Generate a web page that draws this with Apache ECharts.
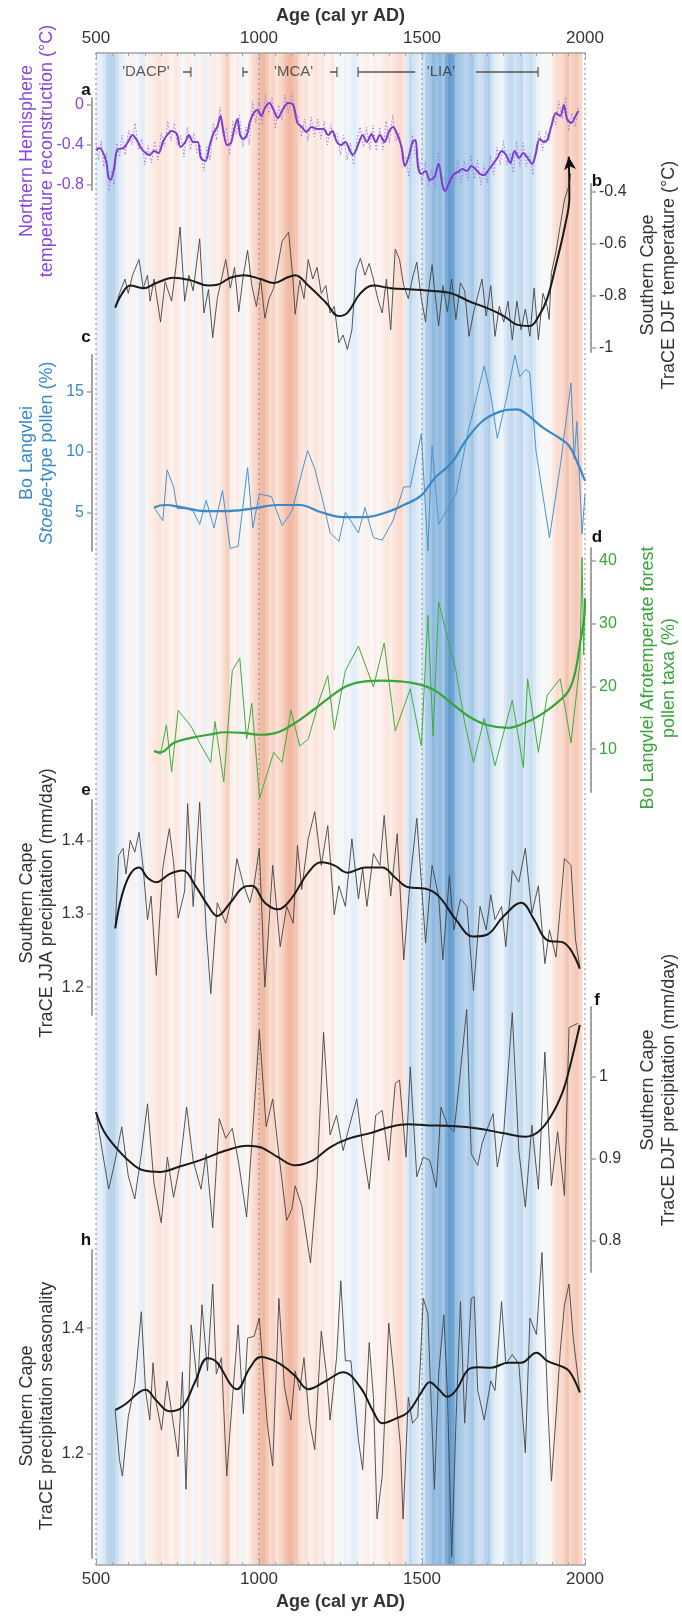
<!DOCTYPE html>
<html><head><meta charset="utf-8">
<script src="https://cdn.jsdelivr.net/npm/echarts@6/dist/echarts.min.js"></script>
<style>html,body{margin:0;padding:0;background:#fff;}#c{width:682px;height:1616px;}</style>
</head><body><div id="c"></div>
<script>
const FONT = "'Liberation Sans', Arial, Helvetica, sans-serif";

// ---------- axis ticks ----------
const ageTicks = [500, 1000, 1500, 2000];
const ticksA = [0, -0.4, -0.8];
const ticksB = [-0.4, -0.6, -0.8, -1];
const ticksC = [5, 10, 15];
const ticksD = [10, 20, 30, 40];
const ticksE = [1.2, 1.3, 1.4];
const ticksF = [0.8, 0.9, 1];
const ticksH = [1.2, 1.4];

// ---------- period annotations ----------
const periodNames = ["'DACP'", "'MCA'", "'LIA'"];
const periodLabelYears = [653, 1106, 1558];
const periodSegments = [[767, 791], [951, 967], [1218, 1239], [1304, 1479], [1666, 1856]];
const periodCaps = [791, 951, 1239, 1304, 1856];

// ---------- background stripes (decadal NH anomaly, -1 cold .. +1 warm) ----------
const stripeValues = [
-0.2,-0.2,-0.3,-0.45,-0.5,-0.5,-0.35,-0.25,-0.15,0.1,
0.15,-0.1,0.1,-0.2,-0.25,0.1,0.2,0.25,0.3,0.35,
0.25,0.3,0.2,0.15,0.3,0.2,0.05,-0.1,0.25,0.1,
-0.15,0.1,0.2,-0.2,-0.1,0.2,0.25,0.15,0.3,0.45,
0.55,0.2,0.1,0.25,-0.1,0.15,0.05,0.3,0.45,0.55,
0.7,0.75,0.6,0.45,0.5,0.35,0.45,0.55,0.7,0.75,
0.7,0.6,0.4,0.3,0.35,0.2,0.25,0.35,0.25,0.3,
0.15,0.1,0.3,0.05,-0.1,0.05,-0.15,-0.1,-0.2,-0.25,
-0.1,0.1,0.2,0.15,0.05,0.2,0.1,0.15,0.25,0.3,
0.2,0.35,0.4,0.45,0.3,-0.3,-0.45,-0.35,-0.3,-0.2,
-0.35,-0.55,-0.6,-0.7,-0.65,-0.7,-0.6,-0.8,-0.9,-0.85,
-0.65,-0.6,-0.55,-0.5,-0.55,-0.6,-0.45,-0.35,-0.4,-0.5,
-0.55,-0.35,-0.25,-0.15,-0.1,-0.3,-0.4,-0.45,-0.35,-0.4,
-0.45,-0.3,-0.35,-0.4,-0.3,-0.15,-0.05,0.05,-0.05,0.1,
0.3,0.45,0.4,0.5,0.65,0.5,0.55,0.6,0.5];
const stripeFirstYear = 500;
const stripeYears = 10;

// ---------- a: NH temperature reconstruction ----------
const nhSmooth = [[500,-0.45],[511,-0.43],[531,-0.56],[538,-0.72],[545,-0.75],[556,-0.62],[565,-0.45],[585,-0.43],[598,-0.37],[612,-0.30],[625,-0.35],[638,-0.43],[652,-0.48],[665,-0.50],[678,-0.46],[692,-0.48],[705,-0.37],[718,-0.30],[732,-0.26],[748,-0.29],[759,-0.42],[774,-0.37],[785,-0.30],[798,-0.37],[812,-0.37],[822,-0.53],[836,-0.56],[849,-0.40],[862,-0.27],[872,-0.22],[882,-0.11],[891,-0.27],[902,-0.40],[914,-0.38],[924,-0.24],[934,-0.14],[942,-0.30],[952,-0.34],[964,-0.29],[971,-0.18],[984,-0.08],[995,-0.05],[1007,-0.11],[1018,-0.03],[1032,0.02],[1045,-0.05],[1058,-0.13],[1072,-0.05],[1089,0.02],[1105,0.00],[1118,-0.18],[1132,-0.22],[1145,-0.27],[1161,-0.22],[1178,-0.24],[1198,-0.24],[1212,-0.30],[1225,-0.26],[1239,-0.37],[1252,-0.40],[1265,-0.37],[1278,-0.45],[1288,-0.50],[1298,-0.45],[1307,-0.37],[1318,-0.30],[1331,-0.37],[1345,-0.29],[1358,-0.37],[1371,-0.30],[1385,-0.37],[1398,-0.27],[1411,-0.22],[1425,-0.30],[1438,-0.43],[1447,-0.61],[1458,-0.53],[1471,-0.37],[1480,-0.35],[1488,-0.62],[1498,-0.69],[1511,-0.66],[1524,-0.75],[1538,-0.72],[1551,-0.59],[1564,-0.82],[1571,-0.86],[1584,-0.77],[1598,-0.69],[1611,-0.67],[1624,-0.64],[1638,-0.66],[1651,-0.61],[1664,-0.64],[1678,-0.69],[1691,-0.70],[1704,-0.65],[1718,-0.59],[1731,-0.53],[1744,-0.46],[1758,-0.50],[1771,-0.58],[1784,-0.46],[1798,-0.53],[1811,-0.48],[1824,-0.53],[1838,-0.59],[1848,-0.50],[1861,-0.34],[1874,-0.37],[1884,-0.35],[1897,-0.21],[1911,-0.08],[1924,-0.11],[1935,0.00],[1945,-0.14],[1958,-0.18],[1971,-0.11],[1980,-0.06]];
const nhRaw = [[500,-0.38],[508,-0.55],[516,-0.36],[524,-0.62],[532,-0.48],[540,-0.86],[548,-0.66],[556,-0.80],[564,-0.38],[572,-0.52],[580,-0.30],[590,-0.50],[600,-0.25],[610,-0.40],[620,-0.18],[630,-0.45],[640,-0.34],[650,-0.60],[660,-0.40],[670,-0.58],[680,-0.36],[690,-0.55],[700,-0.28],[710,-0.42],[720,-0.16],[730,-0.36],[740,-0.18],[750,-0.40],[760,-0.30],[770,-0.52],[780,-0.22],[790,-0.45],[800,-0.28],[810,-0.48],[820,-0.40],[830,-0.66],[840,-0.42],[850,-0.55],[860,-0.18],[870,-0.35],[880,-0.02],[890,-0.30],[900,-0.22],[910,-0.50],[920,-0.16],[930,-0.30],[940,-0.10],[950,-0.42],[960,-0.22],[970,-0.40],[980,0.04],[990,-0.18],[1000,0.06],[1010,-0.20],[1020,0.10],[1030,-0.10],[1040,0.08],[1050,-0.24],[1060,0.0],[1070,-0.15],[1080,0.10],[1090,-0.08],[1100,0.12],[1110,-0.10],[1120,-0.10],[1130,-0.32],[1140,-0.14],[1150,-0.36],[1160,-0.12],[1170,-0.32],[1180,-0.14],[1190,-0.34],[1200,-0.16],[1210,-0.40],[1220,-0.20],[1230,-0.32],[1240,-0.28],[1250,-0.50],[1260,-0.30],[1270,-0.55],[1280,-0.38],[1290,-0.60],[1300,-0.35],[1310,-0.22],[1320,-0.42],[1330,-0.22],[1340,-0.45],[1350,-0.20],[1360,-0.46],[1370,-0.22],[1380,-0.45],[1390,-0.16],[1400,-0.38],[1410,-0.10],[1420,-0.36],[1430,-0.28],[1440,-0.55],[1450,-0.52],[1460,-0.72],[1470,-0.30],[1480,-0.50],[1490,-0.55],[1500,-0.80],[1510,-0.56],[1520,-0.80],[1530,-0.64],[1540,-0.84],[1550,-0.48],[1560,-0.72],[1570,-0.74],[1580,-0.96],[1590,-0.66],[1600,-0.80],[1610,-0.55],[1620,-0.78],[1630,-0.56],[1640,-0.76],[1650,-0.50],[1660,-0.74],[1670,-0.55],[1680,-0.80],[1690,-0.60],[1700,-0.78],[1710,-0.50],[1720,-0.70],[1730,-0.42],[1740,-0.60],[1750,-0.36],[1760,-0.60],[1770,-0.48],[1780,-0.68],[1790,-0.36],[1800,-0.62],[1810,-0.38],[1820,-0.62],[1830,-0.48],[1840,-0.70],[1850,-0.42],[1860,-0.26],[1870,-0.46],[1880,-0.26],[1890,-0.36],[1900,-0.12],[1910,-0.20],[1920,0.04],[1930,-0.14],[1940,0.08],[1950,-0.26],[1960,-0.08],[1970,-0.22],[1980,-0.02]];

// ---------- b: TraCE DJF temperature ----------
const djfTemp = [[559,-0.845],[572,-0.79],[589,-0.735],[599,-0.79],[612,-0.72],[632,-0.66],[645,-0.77],[658,-0.72],[666,-0.82],[678,-0.735],[698,-0.90],[712,-0.745],[732,-0.82],[745,-0.69],[758,-0.535],[772,-0.82],[785,-0.72],[798,-0.78],[818,-0.58],[831,-0.865],[845,-0.775],[858,-0.96],[872,-0.81],[885,-0.735],[898,-0.66],[912,-0.77],[925,-0.69],[938,-0.86],[952,-0.72],[965,-0.625],[978,-0.76],[992,-0.84],[1005,-0.735],[1018,-0.885],[1031,-0.81],[1045,-0.77],[1058,-0.68],[1071,-0.59],[1091,-0.555],[1104,-0.735],[1111,-0.87],[1125,-0.74],[1138,-0.81],[1151,-0.66],[1165,-0.735],[1178,-0.69],[1191,-0.79],[1205,-0.76],[1218,-0.865],[1231,-0.84],[1245,-0.98],[1258,-0.95],[1271,-1.005],[1285,-0.93],[1298,-0.70],[1311,-0.655],[1325,-0.72],[1338,-0.675],[1351,-0.735],[1364,-0.81],[1378,-0.865],[1391,-0.735],[1404,-0.93],[1418,-0.62],[1431,-0.66],[1444,-0.76],[1458,-0.81],[1471,-0.73],[1484,-0.67],[1498,-0.81],[1511,-0.90],[1518,-0.80],[1531,-0.68],[1538,-0.77],[1551,-0.915],[1564,-0.76],[1578,-0.86],[1591,-0.735],[1604,-0.89],[1618,-0.75],[1631,-0.78],[1644,-0.955],[1658,-0.865],[1671,-0.80],[1684,-0.735],[1697,-0.877],[1711,-0.76],[1724,-0.955],[1737,-0.84],[1751,-0.90],[1764,-0.82],[1777,-0.968],[1791,-0.82],[1804,-0.93],[1817,-0.85],[1831,-0.955],[1844,-0.77],[1857,-0.968],[1871,-0.79],[1884,-0.84],[1890,-0.89],[1897,-0.71],[1911,-0.63],[1924,-0.53],[1937,-0.43],[1951,-0.375],[1956,-0.33]];
const djfTempSmooth = [[559,-0.845],[579,-0.793],[605,-0.76],[645,-0.77],[685,-0.75],[738,-0.73],[791,-0.74],[845,-0.76],[872,-0.757],[912,-0.73],[952,-0.72],[1005,-0.735],[1045,-0.75],[1085,-0.73],[1111,-0.72],[1151,-0.76],[1205,-0.825],[1245,-0.877],[1271,-0.865],[1311,-0.79],[1351,-0.76],[1404,-0.77],[1471,-0.775],[1524,-0.78],[1591,-0.79],[1644,-0.82],[1697,-0.845],[1751,-0.877],[1791,-0.91],[1831,-0.915],[1857,-0.88],[1884,-0.81],[1911,-0.68],[1937,-0.54],[1952,-0.42],[1950,-0.265]];

// ---------- c: Stoebe-type pollen ----------
const stoebe = [[678,5.4],[705,4.3],[718,8.5],[738,7.1],[749,5.3],[778,5.3],[798,5.1],[818,4.0],[838,6.0],[862,3.7],[888,6.8],[912,2.0],[936,2.2],[965,8.7],[981,3.7],[1001,6.5],[1038,6.3],[1071,3.9],[1101,5.1],[1149,10.1],[1171,8.6],[1198,5.7],[1218,3.3],[1245,2.6],[1265,5.0],[1305,3.3],[1325,5.4],[1351,2.9],[1378,2.7],[1411,4.3],[1444,7.1],[1464,7.1],[1498,11.5],[1518,1.8],[1531,10.5],[1551,4.0],[1604,6.5],[1640,11.5],[1672,15.0],[1691,17.1],[1712,14.5],[1731,11.1],[1760,14.5],[1785,18.0],[1800,16.2],[1818,16.8],[1830,16.6],[1850,10.0],[1891,2.9],[1925,9.0],[1957,15.7],[1967,9.4],[1975,12.5],[1991,3.2],[2000,6.5]];
const stoebeSmooth = [[678,5.4],[712,5.6],[765,5.4],[832,5.1],[898,5.1],[978,5.3],[1058,5.6],[1125,5.6],[1191,5.0],[1258,4.6],[1325,4.6],[1391,5.0],[1444,5.6],[1498,6.4],[1538,7.8],[1591,9.1],[1631,10.8],[1684,12.5],[1737,13.3],[1791,13.5],[1817,13.2],[1871,12.0],[1924,11.1],[1951,10.5],[1977,9.1],[2000,7.6]];

// ---------- d: Afrotemperate forest pollen ----------
const forest = [[678,9.7],[698,9.2],[716,13.9],[732,6.4],[752,16.2],[792,13.6],[818,11.0],[852,7.9],[865,14.4],[892,4.8],[918,22.5],[941,24.5],[962,11.6],[978,17.3],[1002,2.2],[1045,9.5],[1071,7.9],[1098,16.2],[1125,10.5],[1151,11.6],[1185,17.8],[1211,21.7],[1231,13.1],[1265,22.5],[1305,26.4],[1351,19.9],[1384,26.9],[1418,12.9],[1464,19.6],[1498,10.5],[1518,31.3],[1534,12.1],[1551,33.4],[1604,22.5],[1631,14.2],[1658,7.9],[1691,14.9],[1724,7.4],[1777,17.8],[1811,7.1],[1824,21.2],[1857,9.5],[1884,18.6],[1924,21.2],[1957,11.0],[1984,23.5],[1991,40.5],[1996,25.0],[2000,34.0]];
const forestSmooth = [[678,9.7],[698,9.5],[738,11.0],[791,11.8],[845,12.3],[898,12.7],[952,12.6],[1005,12.3],[1058,12.7],[1111,14.2],[1165,16.2],[1218,18.3],[1271,20.1],[1325,20.8],[1378,20.9],[1431,20.8],[1484,20.4],[1538,19.4],[1591,17.3],[1644,15.2],[1697,13.9],[1764,13.4],[1817,14.2],[1871,15.7],[1924,17.8],[1951,19.4],[1971,22.5],[1984,26.6],[1997,30.8],[2000,34.0]];

// ---------- e: TraCE JJA precipitation ----------
const jjaPrecip = [[559,1.280],[569,1.379],[583,1.389],[592,1.354],[605,1.400],[619,1.384],[632,1.411],[645,1.361],[658,1.292],[669,1.324],[685,1.216],[705,1.363],[725,1.416],[738,1.370],[752,1.294],[772,1.331],[781,1.450],[798,1.310],[818,1.452],[838,1.278],[852,1.191],[872,1.315],[898,1.287],[918,1.324],[932,1.375],[952,1.340],[972,1.315],[985,1.340],[1001,1.389],[1018,1.200],[1042,1.366],[1065,1.255],[1085,1.310],[1105,1.287],[1118,1.393],[1131,1.333],[1151,1.402],[1171,1.439],[1191,1.366],[1211,1.420],[1231,1.299],[1245,1.338],[1265,1.310],[1285,1.402],[1305,1.320],[1318,1.361],[1331,1.310],[1351,1.382],[1371,1.366],[1384,1.434],[1404,1.324],[1424,1.409],[1444,1.237],[1464,1.347],[1484,1.430],[1498,1.343],[1511,1.260],[1531,1.366],[1551,1.324],[1564,1.237],[1584,1.352],[1598,1.278],[1618,1.320],[1638,1.310],[1658,1.195],[1678,1.310],[1697,1.278],[1711,1.326],[1724,1.292],[1744,1.310],[1757,1.255],[1777,1.359],[1797,1.343],[1817,1.389],[1837,1.301],[1857,1.338],[1877,1.232],[1891,1.278],[1911,1.241],[1937,1.375],[1957,1.366],[1971,1.264],[1984,1.228]];
const jjaSmooth = [[559,1.280],[579,1.324],[605,1.354],[632,1.363],[658,1.349],[685,1.343],[725,1.354],[765,1.359],[805,1.338],[845,1.310],[872,1.297],[912,1.315],[952,1.336],[978,1.338],[1018,1.315],[1058,1.306],[1098,1.320],[1151,1.356],[1191,1.370],[1231,1.366],[1271,1.356],[1325,1.363],[1378,1.363],[1418,1.349],[1458,1.336],[1511,1.334],[1551,1.324],[1604,1.292],[1657,1.269],[1697,1.271],[1751,1.297],[1804,1.315],[1844,1.292],[1884,1.264],[1937,1.260],[1984,1.225]];

// ---------- f: TraCE DJF precipitation ----------
const djfPrecip = [[500,0.957],[519,0.910],[539,0.863],[559,0.898],[579,0.939],[599,0.879],[619,0.851],[639,0.906],[658,0.967],[678,0.870],[700,0.822],[719,0.902],[738,0.853],[758,0.894],[778,0.963],[798,0.898],[822,0.863],[838,0.906],[858,0.816],[878,0.949],[898,0.925],[918,0.937],[938,0.894],[962,0.829],[982,0.941],[1001,1.057],[1022,0.939],[1042,0.973],[1062,0.902],[1085,0.825],[1101,0.839],[1111,0.867],[1131,0.843],[1158,0.773],[1178,0.875],[1198,1.054],[1218,0.929],[1238,0.953],[1258,0.910],[1278,0.941],[1300,0.973],[1318,0.914],[1338,0.863],[1358,0.953],[1378,0.959],[1398,0.898],[1418,0.992],[1431,0.996],[1451,0.902],[1464,1.012],[1484,0.878],[1504,0.902],[1524,0.898],[1544,0.865],[1558,0.963],[1578,0.941],[1598,0.933],[1611,0.980],[1637,1.082],[1651,0.906],[1671,0.892],[1684,0.918],[1697,0.933],[1718,0.955],[1731,0.890],[1751,0.933],[1777,1.078],[1797,0.910],[1817,0.841],[1837,0.941],[1857,0.863],[1877,1.030],[1897,0.867],[1916,0.933],[1937,0.855],[1951,1.060],[1978,1.065]];
const djfPrecipSmooth = [[500,0.957],[525,0.933],[565,0.912],[605,0.896],[645,0.886],[698,0.884],[752,0.890],[818,0.898],[898,0.910],[965,0.916],[1005,0.914],[1058,0.902],[1111,0.892],[1165,0.898],[1218,0.914],[1271,0.924],[1338,0.931],[1404,0.939],[1458,0.942],[1511,0.941],[1591,0.940],[1671,0.937],[1751,0.931],[1817,0.927],[1857,0.933],[1897,0.953],[1930,0.980],[1951,1.008],[1984,1.063]];

// ---------- h: TraCE precipitation seasonality ----------
const seasonality = [[559,1.269],[572,1.191],[581,1.165],[599,1.259],[619,1.311],[639,1.426],[652,1.301],[665,1.254],[675,1.345],[685,1.280],[701,1.238],[718,1.316],[732,1.267],[752,1.196],[765,1.330],[776,1.144],[792,1.405],[812,1.306],[825,1.437],[842,1.332],[858,1.470],[869,1.327],[885,1.353],[901,1.165],[918,1.285],[936,1.405],[952,1.264],[965,1.384],[985,1.387],[1001,1.416],[1025,1.249],[1042,1.181],[1061,1.447],[1078,1.306],[1098,1.254],[1111,1.332],[1125,1.301],[1138,1.353],[1154,1.254],[1171,1.207],[1191,1.395],[1207,1.327],[1218,1.254],[1238,1.353],[1251,1.475],[1265,1.348],[1282,1.348],[1305,1.222],[1318,1.175],[1338,1.377],[1351,1.290],[1362,1.097],[1378,1.165],[1398,1.408],[1418,1.301],[1434,1.212],[1442,1.097],[1458,1.290],[1471,1.249],[1487,1.259],[1504,1.447],[1518,1.423],[1538,1.144],[1551,1.327],[1567,1.421],[1578,1.296],[1591,1.037],[1604,1.249],[1618,1.442],[1631,1.249],[1651,1.447],[1660,1.450],[1671,1.301],[1691,1.254],[1711,1.316],[1724,1.301],[1744,1.442],[1757,1.343],[1777,1.358],[1797,1.343],[1817,1.202],[1831,1.416],[1851,1.390],[1868,1.520],[1886,1.275],[1897,1.157],[1911,1.259],[1924,1.363],[1937,1.437],[1951,1.470],[1964,1.384],[1984,1.298]];
const seasonalitySmooth = [[559,1.270],[592,1.280],[632,1.298],[652,1.302],[685,1.285],[725,1.268],[765,1.275],[805,1.316],[842,1.352],[872,1.345],[912,1.311],[932,1.303],[972,1.337],[1005,1.354],[1058,1.345],[1111,1.324],[1151,1.303],[1205,1.316],[1258,1.330],[1311,1.306],[1351,1.267],[1378,1.249],[1418,1.256],[1458,1.267],[1498,1.298],[1524,1.314],[1551,1.303],[1578,1.291],[1604,1.301],[1644,1.335],[1671,1.338],[1711,1.337],[1764,1.345],[1804,1.345],[1851,1.361],[1884,1.348],[1924,1.340],[1951,1.332],[1984,1.298]];

// ================= build chart =================
const C_PURPLE = '#7a3fd0', C_PURPLE_T = '#8a45dc', C_BLUE = '#3a89c6', C_GREEN = '#37a537', C_TXT = '#333333', C_AX = '#a3a3a3';

const stripeData = stripeValues.map((v, i) => [stripeFirstYear + i * stripeYears, stripeFirstYear + (i + 1) * stripeYears, v]);
const vlineData = [];
ageTicks.forEach(t => { vlineData.push([t, 0], [t, 1], [t, '-']); });
const segData = [];
periodSegments.forEach(s => { segData.push([s[0], 0.5], [s[1], 0.5], [s[1], '-']); });

const L = 96, R = 97;
const panels = [ // layout of the stacked panels
  {top: 98,  height: 92,  min: -0.85, max: 0.07,  ticks: ticksA, side: 'left',  color: C_PURPLE_T},
  {top: 184, height: 168, min: -1.015, max: -0.37, ticks: ticksB, side: 'right', color: C_TXT},
  {top: 355, height: 196, min: 1.8,  max: 18,     ticks: ticksC, side: 'left',  color: C_BLUE},
  {top: 548, height: 244, min: 3.2,  max: 42,     ticks: ticksD, side: 'right', color: C_GREEN},
  {top: 800, height: 215, min: 1.162, max: 1.455, ticks: ticksE, side: 'left',  color: C_TXT},
  {top: 1007, height: 265, min: 0.762, max: 1.085, ticks: ticksF, side: 'right', color: C_TXT},
  {top: 1250, height: 308, min: 1.035, max: 1.524, ticks: ticksH, side: 'left',  color: C_TXT}
];
const plainNum = v => String(v);

function ageAxis(pos, gap) {
  return {type: 'value', gridIndex: 0, position: pos, min: 500, max: 2000, interval: 500,
   name: 'Age (cal yr AD)', nameLocation: 'middle', nameGap: gap,
   nameTextStyle: {fontWeight: 'bold', fontSize: 18, color: C_TXT, fontFamily: FONT},
   axisLine: {show: true, onZero: false, lineStyle: {color: C_AX, width: 1.5}},
   axisTick: {show: true, inside: true, length: 6, lineStyle: {color: C_AX}},
   minorTick: {show: true, splitNumber: 10, length: 3, lineStyle: {color: C_AX}},
   axisLabel: {fontSize: 17, color: C_TXT, fontFamily: FONT, margin: 6, formatter: plainNum},
   splitLine: {show: false}};
}

const grid = [{left: L, right: R, top: 53, bottom: 47}, {left: L, right: R, top: 62, height: 20}];
const xAxis = [ageAxis('top', 24), ageAxis('bottom', 26), {type: 'value', gridIndex: 1, min: 500, max: 2000, show: false}];
const yAxis = [
  {type: 'value', gridIndex: 0, min: 0, max: 1, show: false},
  {type: 'value', gridIndex: 1, min: 0, max: 1, show: false}
];
panels.forEach((p, i) => {
  grid.push({left: L, right: R, top: p.top, height: p.height});
  xAxis.push({type: 'value', gridIndex: i + 2, min: 500, max: 2000, show: false});
  yAxis.push({type: 'value', gridIndex: i + 2, min: p.min, max: p.max, position: p.side, offset: p.side === 'left' ? 4 : 6,
    axisLine: {show: true, onZero: false, lineStyle: {color: C_AX, width: 2}},
    axisTick: {show: true, length: 5, customValues: p.ticks, lineStyle: {color: C_AX, width: 1.5}},
    axisLabel: {customValues: p.ticks, color: p.color, fontSize: 16, fontFamily: FONT, margin: 8, formatter: plainNum},
    splitLine: {show: false}});
});

function line(panel, data, color, width, opts) {
  return Object.assign({type: 'line', xAxisIndex: panel + 3, yAxisIndex: panel + 2, data: data,
    symbol: 'none', showSymbol: false, clip: false, silent: true, animation: false, z: 5,
    lineStyle: {color: color, width: width}}, opts || {});
}

const arrowData = djfTempSmooth.map((d, i) => i === djfTempSmooth.length - 1
  ? {value: d, symbol: 'arrow', symbolSize: [9, 13], symbolRotate: 6, itemStyle: {color: '#111'}} : d);

const series = [
  {type: 'custom', xAxisIndex: 0, yAxisIndex: 0, data: stripeData, encode: {x: [0, 1]}, silent: true, z: 0,
   renderItem: function (params, api) {
     const s = api.coord([api.value(0), 0]);
     const e = api.coord([api.value(1), 1]);
     return {type: 'rect', shape: {x: s[0], y: e[1], width: e[0] - s[0] + 0.6, height: s[1] - e[1]},
             style: {fill: api.visual('color')}};
   }},
  {type: 'line', xAxisIndex: 0, yAxisIndex: 0, data: vlineData, symbol: 'none', silent: true, z: 2,
   lineStyle: {color: '#9a9a9a', width: 1.2, type: [2, 3]}},
  {type: 'line', xAxisIndex: 2, yAxisIndex: 1, data: segData, symbol: 'none', silent: true, z: 3,
   lineStyle: {color: '#555', width: 1.5}},
  {type: 'scatter', xAxisIndex: 2, yAxisIndex: 1, data: periodCaps.map(c => [c, 0.5]), symbol: 'rect',
   symbolSize: [1.5, 10], itemStyle: {color: '#555'}, silent: true, z: 3},
  {type: 'scatter', xAxisIndex: 2, yAxisIndex: 1, data: periodLabelYears.map((y, i) => ({value: [y, 0.5], name: periodNames[i]})),
   symbolSize: 0, silent: true, z: 3,
   label: {show: true, position: 'inside', formatter: '{b}', color: '#333', fontSize: 15, fontFamily: FONT}},
  // a
  line(0, nhRaw, '#b08ae6', 1, {lineStyle: {color: '#a37de0', width: 1, type: [1.5, 2]}}),
  line(0, nhSmooth, C_PURPLE, 2, {smooth: 0.3}),
  // b
  line(1, djfTemp, '#444', 0.9),
  line(1, arrowData, '#1a1a1a', 2, {smooth: 0.4, showSymbol: true}),
  // c
  line(2, stoebe, '#4a94cd', 1),
  line(2, stoebeSmooth, C_BLUE, 2.2, {smooth: 0.4}),
  // d
  line(3, forest, '#40ad40', 1),
  line(3, forestSmooth, C_GREEN, 2.2, {smooth: 0.4}),
  // e
  line(4, jjaPrecip, '#444', 0.9),
  line(4, jjaSmooth, '#1a1a1a', 2, {smooth: 0.4}),
  // f
  line(5, djfPrecip, '#444', 0.9),
  line(5, djfPrecipSmooth, '#1a1a1a', 2, {smooth: 0.4}),
  // h
  line(6, seasonality, '#444', 0.9),
  line(6, seasonalitySmooth, '#1a1a1a', 2, {smooth: 0.4})
];

function vtext(txt, x, y, color, rich) {
  const st = {text: txt, fontSize: 18, fontFamily: FONT, fill: color, align: 'center', verticalAlign: 'middle'};
  if (rich) st.rich = rich;
  return {type: 'text', x: x, y: y, rotation: Math.PI / 2, silent: true, z: 100, style: st};
}
function letter(t, x, y) {
  return {type: 'text', x: x, y: y, silent: true, z: 100,
    style: {text: t, fontSize: 17, fontWeight: 'bold', fontFamily: FONT, fill: '#111', align: 'center', verticalAlign: 'middle'}};
}
const italic = {i: {fontStyle: 'italic', fontSize: 18, fontFamily: FONT, fill: C_BLUE}};
const LX1 = 27, LX2 = 47, RX1 = 648, RX2 = 669;
const graphic = [
  vtext('Northern Hemisphere', LX1, 151, C_PURPLE_T),
  vtext('temperature reconstruction (°C)', LX2, 151, C_PURPLE_T),
  vtext('Southern Cape', RX1, 275, C_TXT),
  vtext('TraCE DJF temperature (°C)', RX2, 275, C_TXT),
  vtext('Bo Langvlei', LX1, 453, C_BLUE),
  vtext('{i|Stoebe}-type pollen (%)', LX2, 453, C_BLUE, italic),
  vtext('Bo Langvlei Afrotemperate forest', RX1, 678, C_GREEN),
  vtext('pollen taxa (%)', RX2, 678, C_GREEN),
  vtext('Southern Cape', LX1, 903, C_TXT),
  vtext('TraCE JJA precipitation (mm/day)', LX2, 903, C_TXT),
  vtext('Southern Cape', RX1, 1090, C_TXT),
  vtext('TraCE DJF precipitation (mm/day)', RX2, 1090, C_TXT),
  vtext('Southern Cape', LX1, 1406, C_TXT),
  vtext('TraCE precipitation seasonality', LX2, 1406, C_TXT),
  letter('a', 86, 90), letter('b', 597, 181), letter('c', 86, 337), letter('d', 597, 537),
  letter('e', 86, 790), letter('f', 597, 1000), letter('h', 86, 1240)
];

const chart = echarts.init(document.getElementById('c'), null, {renderer: 'canvas'});
chart.setOption({
  animation: false,
  backgroundColor: '#ffffff',
  textStyle: {fontFamily: FONT},
  grid: grid, xAxis: xAxis, yAxis: yAxis,
  visualMap: {type: 'continuous', show: false, seriesIndex: 0, dimension: 2, min: -1, max: 1,
    inRange: {color: ['#4a8bc4', '#86b3dc', '#b9d4ec', '#e2eef7', '#fafafa', '#fcece5', '#f8d5c7', '#f0b7a1', '#e4917a']}},
  series: series,
  graphic: graphic
});
</script></body></html>
